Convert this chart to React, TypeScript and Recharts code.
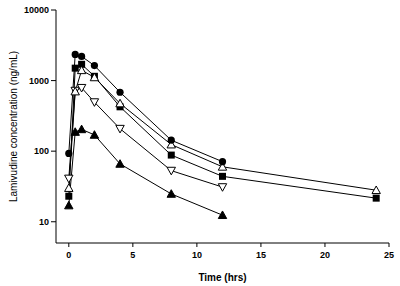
import React from 'react';
import { LineChart, Line, XAxis, YAxis } from 'recharts';

// sampling times (hrs)
const times = [0, 0.5, 1, 2, 4, 8, 12, 24];

// lamivudine concentration (ng/mL) per subject group
const filledCircle = [93, 2350, 2200, 1630, 684, 143, 71, null];
const filledSquare = [23, 1500, 1700, 1150, 425, 88, 44, 21.6];
const openUp = [30, 700, 1400, 1110, 474, 124, 60, 28];
const openDown = [41, 720, 790, 495, 208, 53, 31, null];
const filledUp = [17, 187, 204, 170, 66, 24.8, 12.4, null];

const xTicks = [0, 5, 10, 15, 20, 25];
const yTicks = [10, 100, 1000, 10000];

const data = times.map((t, i) => ({
  time: t,
  circle: filledCircle[i],
  square: filledSquare[i],
  up: openUp[i],
  down: openDown[i],
  solidUp: filledUp[i],
}));

type Kind = 'circle' | 'square' | 'up' | 'down' | 'solidUp';

function Marker({ cx, cy, kind }: { cx?: number; cy?: number; kind: Kind }) {
  if (cx == null || cy == null || isNaN(cx) || isNaN(cy)) return <g />;
  if (kind === 'circle') return <circle cx={cx} cy={cy} r={3.6} fill="#000" />;
  if (kind === 'square') return <rect x={cx - 3.5} y={cy - 3.5} width={7} height={7} fill="#000" />;
  const s = 4.2;
  if (kind === 'down') {
    return (
      <polygon
        points={`${cx - s},${cy - s * 0.8} ${cx + s},${cy - s * 0.8} ${cx},${cy + s}`}
        fill="#fff"
        stroke="#000"
        strokeWidth={1}
      />
    );
  }
  return (
    <polygon
      points={`${cx - s},${cy + s * 0.8} ${cx + s},${cy + s * 0.8} ${cx},${cy - s}`}
      fill={kind === 'solidUp' ? '#000' : '#fff'}
      stroke="#000"
      strokeWidth={1}
    />
  );
}

const series: { key: Kind }[] = [
  { key: 'solidUp' },
  { key: 'down' },
  { key: 'square' },
  { key: 'up' },
  { key: 'circle' },
];

const tickStyle = { fill: '#000', fontSize: 9, fontWeight: 700, fontFamily: '"Liberation Sans", Arial, sans-serif' };

export default function App() {
  return (
    <div style={{ position: 'absolute', left: 0, top: 0, background: '#fff' }}>
      <LineChart width={400} height={286} data={data} margin={{ top: 10, right: 11, left: 0, bottom: 0 }}>
        <XAxis
          dataKey="time"
          type="number"
          domain={[-1, 25]}
          ticks={xTicks}
          height={43}
          tickSize={4}
          tickMargin={5}
          tick={tickStyle}
          stroke="#000"
          label={{
            value: 'Time (hrs)',
            position: 'insideBottom',
            offset: 5,
            style: { fill: '#000', fontSize: 10, fontWeight: 700, fontFamily: '"Liberation Sans", Arial, sans-serif' },
          }}
        />
        <YAxis
          scale="log"
          domain={[5, 10000]}
          allowDataOverflow
          ticks={yTicks}
          width={56}
          tickSize={5}
          tickMargin={2}
          tick={tickStyle}
          stroke="#000"
          label={{
            value: 'Lamivudine concentration (ng/mL)',
            angle: -90,
            position: 'insideLeft',
            offset: 13,
            style: { textAnchor: 'middle', fill: '#000', fontSize: 10, fontFamily: '"Liberation Sans", Arial, sans-serif' },
          }}
        />
        {series.map((s) => (
          <Line
            key={s.key}
            dataKey={s.key}
            stroke="#000"
            strokeWidth={1}
            isAnimationActive={false}
            dot={(p: any) => <Marker key={`${s.key}-${p.index}`} cx={p.cx} cy={p.cy} kind={s.key} />}
            activeDot={false}
          />
        ))}
      </LineChart>
    </div>
  );
}
